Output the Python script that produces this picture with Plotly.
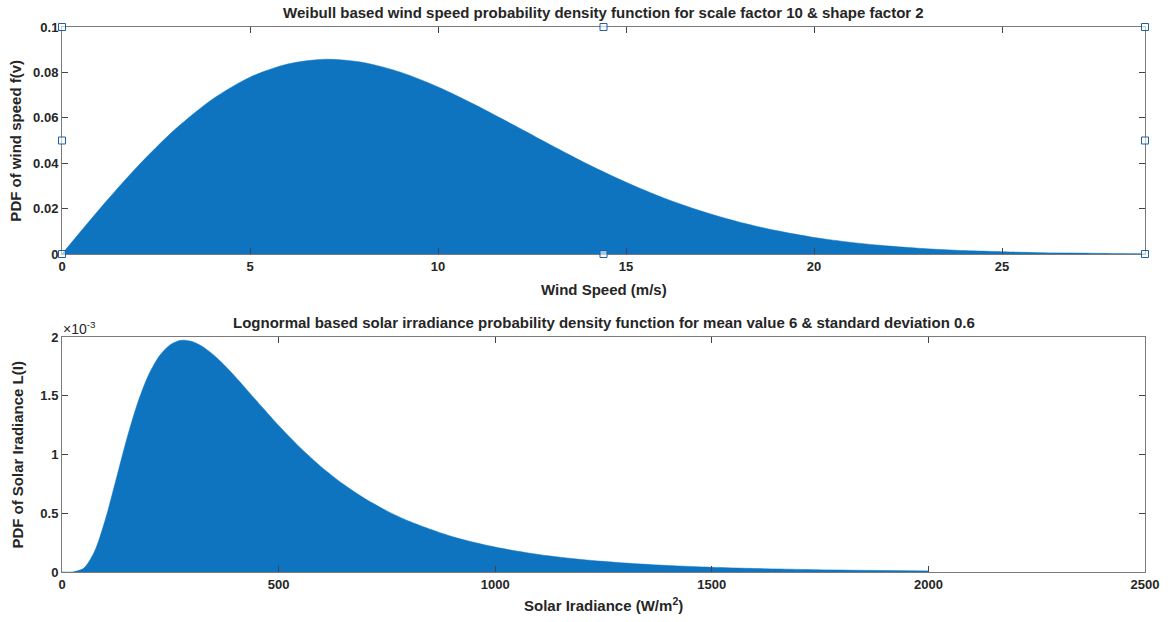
import plotly.graph_objects as go
from plotly.subplots import make_subplots

# ---- data ----
wind_speed = [0, 1, 2, 3, 4, 5, 6, 7, 8, 9, 10, 11, 12, 13, 14, 15, 16, 17, 18, 19,
              20, 21, 22, 23, 24, 25, 26, 27, 28, 28.8]
wind_pdf = [0, 0.0198, 0.0384, 0.0548, 0.0682, 0.0779, 0.0837, 0.0858, 0.0844, 0.0801,
            0.0736, 0.0656, 0.0569, 0.0480, 0.0394, 0.0316, 0.0247, 0.0189, 0.0141, 0.0103,
            0.0073, 0.0051, 0.0035, 0.0023, 0.0015, 0.0010, 0.0006, 0.0004, 0.0002, 0.00015]

solar_irr = [0, 25, 50, 75, 100, 125, 150, 175, 200, 225, 250, 275, 300, 325, 350, 375, 400, 450,
             500, 550, 600, 650, 700, 750, 800, 900, 1000, 1100, 1200, 1300, 1400, 1500, 1600,
             1800, 2000]
solar_pdf = [0, 0.0000006, 0.0000312, 0.000174, 0.000446, 0.000790, 0.001138, 0.001442,
             0.001678, 0.001840, 0.001935, 0.001972, 0.001962, 0.001917, 0.001847, 0.001760,
             0.001662, 0.001453, 0.001247, 0.001058, 0.000890, 0.000746, 0.000623, 0.000520,
             0.000434, 0.000302, 0.000212, 0.000149, 0.000106, 0.0000764, 0.0000553,
             0.0000404, 0.0000298, 0.0000165, 0.0000095]

wind_xticks = [0, 5, 10, 15, 20, 25]
wind_yticks = [0, 0.02, 0.04, 0.06, 0.08, 0.1]
wind_yticktext = ["0", "0.02", "0.04", "0.06", "0.08", "0.1"]
solar_xticks = [0, 500, 1000, 1500, 2000, 2500]
solar_yticks = [0, 0.0005, 0.001, 0.0015, 0.002]
solar_yticktext = ["0", "0.5", "1", "1.5", "2"]

title_top = "Weibull based wind speed probability density function for scale factor 10 & shape factor 2"
title_bot = "Lognormal based solar irradiance probability density function for mean value 6 & standard deviation 0.6"

BAR = "#0F74C0"
TXT = "#262626"
FONT = "Liberation Sans, Arial, sans-serif"

fig = make_subplots(rows=2, cols=1)
fig.add_trace(go.Scatter(x=wind_speed, y=wind_pdf, mode="lines", fill="tozeroy",
                         line=dict(color=BAR, width=0.5, shape="spline", smoothing=0.8),
                         fillcolor=BAR, showlegend=False, hoverinfo="x+y"), row=1, col=1)
fig.add_trace(go.Scatter(x=solar_irr, y=solar_pdf, mode="lines", fill="tozeroy",
                         line=dict(color=BAR, width=0.5, shape="spline", smoothing=0.8),
                         fillcolor=BAR, showlegend=False, hoverinfo="x+y"), row=2, col=1)

# body margin is removed in the page (post_script); plot area at x 62..1148, y 27..572
H_PLOT = 545.0
top_lo = (572 - 254) / H_PLOT
bot_hi = (572 - 337) / H_PLOT

axis_common = dict(showline=True, linecolor="#7a7a7a", linewidth=1, mirror="ticks",
                   ticks="inside", ticklen=6, tickcolor="#444", showgrid=False,
                   tickfont=dict(family=FONT, size=13, color=TXT, weight="bold"))

fig.update_layout(
    width=1171, height=622,
    margin=dict(l=62, r=1171 - 1148, t=27, b=622 - 572),
    paper_bgcolor="white", plot_bgcolor="white",
    font=dict(family=FONT, color=TXT),
    xaxis=dict(domain=[0, 1], range=[0, 28.8], tickvals=wind_xticks, anchor="y", **axis_common),
    yaxis=dict(domain=[top_lo, 1], range=[0, 0.1], tickvals=wind_yticks, ticktext=wind_yticktext,
               zeroline=True, zerolinecolor="#1a1a1a", zerolinewidth=1.3, anchor="x", **axis_common),
    xaxis2=dict(domain=[0, 1], range=[0, 2500], tickvals=solar_xticks, anchor="y2", **axis_common),
    yaxis2=dict(domain=[0, bot_hi], range=[0, 0.002], tickvals=solar_yticks, ticktext=solar_yticktext,
                zeroline=True, zerolinecolor="#1a1a1a", zerolinewidth=1.3, anchor="x2", **axis_common),
)

def ann(text, x, y, size, angle=0, xanchor="center", yanchor="middle", weight="bold"):
    fig.add_annotation(text=text, x=x, y=y, xref="paper", yref="paper", showarrow=False,
                       textangle=angle, xanchor=xanchor, yanchor=yanchor,
                       font=dict(family=FONT, size=size, color=TXT, weight=weight))

def py(px):
    return (572 - px) / H_PLOT

def pxx(px):
    return (px - 62) / 1086.0

ann(title_top, 0.5, py(12.5), 15)
ann(title_bot, 0.5, py(322), 15)
ann("Wind Speed (m/s)", 0.5, py(289), 15)
ann("Solar Iradiance (W/m<sup>2</sup>)", 0.5, py(604), 15)
ann("PDF of wind speed f(v)", pxx(15), py(140.5), 15, angle=-90)
ann("PDF of Solar Iradiance L(I)", pxx(17), py(454.5), 15, angle=-90)
ann("×10<sup>-3</sup>", pxx(61), py(328), 14, xanchor="left", weight="normal")

# selection handles on the top axes (MATLAB style)
for fx in (0, 0.5, 1):
    for fy in (0, 0.5, 1):
        if fx == 0.5 and fy == 0.5:
            continue
        fig.add_shape(type="rect", xref="x domain", yref="y domain",
                      xsizemode="pixel", ysizemode="pixel", xanchor=fx, yanchor=fy,
                      x0=-3.5, x1=3.5, y0=-3.5, y1=3.5,
                      line=dict(color="#1f5fa8", width=1), fillcolor="rgba(255,255,255,0.6)")

fig.write_html("out.html", config={"displayModeBar": False},
               post_script="document.body.style.margin='0';")
